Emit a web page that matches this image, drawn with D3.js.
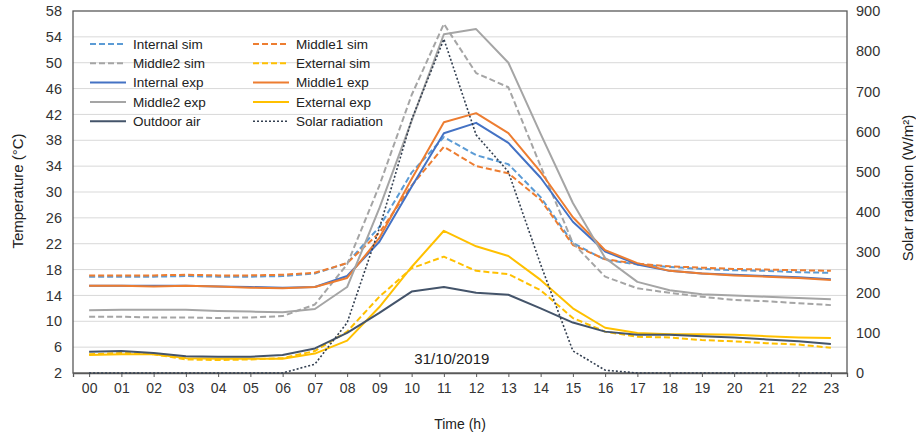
<!DOCTYPE html>
<html>
<head>
<meta charset="utf-8">
<script src="https://d3js.org/d3.v7.min.js"></script>
<style>
body { margin: 0; background: #fff; }
svg { font-family: Arial, "Liberation Sans", sans-serif; }
.narrow { font-family: "Liberation Sans Narrow", "Arial Narrow", Arial, sans-serif; }
</style>
</head>
<body>
<svg id="chart" width="916" height="438"></svg>
<script>
var hours = ["00","01","02","03","04","05","06","07","08","09","10","11","12","13","14","15","16","17","18","19","20","21","22","23"];
var tempTicks = [2,6,10,14,18,22,26,30,34,38,42,46,50,54,58];
var solarTicks = [0,100,200,300,400,500,600,700,800,900];

var internalSim = [16.9,16.9,16.9,17.0,16.9,16.9,17.0,17.4,19.0,24.6,33.0,38.5,35.7,34.3,29.2,22.1,19.5,18.8,18.4,18.1,17.9,17.8,17.6,17.5];
var middle1Sim  = [17.1,17.1,17.1,17.2,17.1,17.1,17.2,17.5,19.0,23.7,31.0,37.0,34.0,32.9,28.8,21.8,19.6,18.9,18.5,18.3,18.1,18.0,17.9,17.8];
var middle2Sim  = [10.7,10.7,10.6,10.6,10.5,10.6,10.8,12.6,18.8,31.0,45.0,56.0,48.4,46.2,34.0,22.1,16.9,15.1,14.4,13.8,13.3,13.1,12.8,12.5];
var externalSim = [4.9,5.1,4.9,4.1,4.0,4.1,4.3,5.4,8.4,13.8,18.2,20.0,17.8,17.3,14.8,10.5,8.4,7.6,7.5,7.1,6.9,6.6,6.4,5.9];
var internalExp = [15.5,15.5,15.5,15.5,15.4,15.3,15.2,15.3,17.0,22.3,30.8,39.1,40.7,37.6,32.2,25.4,20.8,18.8,17.8,17.4,17.2,17.0,16.8,16.5];
var middle1Exp  = [15.5,15.5,15.4,15.5,15.4,15.2,15.1,15.3,16.7,22.9,32.0,40.8,42.2,39.1,33.1,26.1,21.0,19.0,17.8,17.4,17.1,16.9,16.7,16.4];
var middle2Exp  = [11.7,11.8,11.8,11.8,11.6,11.5,11.4,11.9,15.3,27.5,41.0,54.4,55.2,50.0,39.0,28.3,19.8,16.1,14.8,14.2,14.0,13.8,13.6,13.4];
var externalExp = [4.8,4.9,4.9,4.3,4.2,4.2,4.2,5.0,7.0,12.2,18.4,24.0,21.6,20.1,16.4,12.0,9.0,8.2,8.0,8.0,7.9,7.7,7.5,7.4];
var outdoorAir  = [5.3,5.4,5.1,4.6,4.5,4.5,4.8,5.8,8.2,11.3,14.6,15.3,14.4,14.1,12.0,9.8,8.4,7.9,7.9,7.7,7.5,7.2,6.9,6.5];
var solarRad    = [0,0,0,0,0,0,0,22,125,360,630,830,592,500,270,55,7,0,0,0,0,0,0,0];

var seriesNames = ["Internal sim","Middle1 sim","Middle2 sim","External sim","Internal exp","Middle1 exp","Middle2 exp","External exp","Outdoor air","Solar radiation"];
var seriesData = [internalSim,middle1Sim,middle2Sim,externalSim,internalExp,middle1Exp,middle2Exp,externalExp,outdoorAir,solarRad];
var colors = ["#5B9BD5","#ED7D31","#A5A5A5","#FFC000","#4472C4","#ED7D31","#A5A5A5","#FFC000","#44546A","#333F50"];
var dashes = ["6,3","6,3","6,3","6,3",null,null,null,null,null,"2,2"];

var margin = {top: 11, right: 69, bottom: 65, left: 73};
var svg = d3.select("#chart");
var width = 916 - margin.left - margin.right,
    height = 438 - margin.top - margin.bottom;
var g = svg.append("g").attr("transform", "translate(" + margin.left + "," + margin.top + ")");

var xScale = d3.scalePoint().domain(hours).range([0, width]).padding(0.5);
var yScale = d3.scaleLinear().domain([2, 58]).range([height, 0]);
var y2Scale = d3.scaleLinear().domain([0, 900]).range([height, 0]);

// gridlines
g.selectAll(".grid")
  .data(tempTicks.slice(1, -1))
  .enter().append("line")
  .attr("x1", 0).attr("x2", width)
  .attr("y1", function(d) { return yScale(d); })
  .attr("y2", function(d) { return yScale(d); })
  .attr("stroke", "#d9d9d9")
  .attr("stroke-width", 1);

// frame
g.append("rect")
  .attr("x", 0).attr("y", 0)
  .attr("width", width).attr("height", height)
  .attr("fill", "none")
  .attr("stroke", "#595959")
  .attr("stroke-width", 1.3);

// left axis
var yAxis = g.append("g")
  .call(d3.axisLeft(yScale).tickValues(tempTicks).tickSize(0).tickPadding(11));
yAxis.select(".domain").remove();
yAxis.selectAll("text").attr("font-size", "14.5px").attr("fill", "#333").attr("font-family", "Arial, sans-serif");

// right axis
var y2Axis = g.append("g")
  .attr("transform", "translate(" + width + ",0)")
  .call(d3.axisRight(y2Scale).tickValues(solarTicks).tickSize(0).tickPadding(9));
y2Axis.select(".domain").remove();
y2Axis.selectAll("text").attr("font-size", "14.5px").attr("fill", "#333").attr("font-family", "Arial, sans-serif");

// bottom axis
var xAxis = g.append("g")
  .attr("transform", "translate(0," + height + ")")
  .call(d3.axisBottom(xScale).tickSize(4).tickPadding(6));
xAxis.select(".domain").attr("stroke", "#595959").attr("stroke-width", 1.3);
xAxis.selectAll(".tick line").attr("stroke", "#595959");
xAxis.selectAll("text")
  .attr("class", "narrow")
  .attr("font-size", "14px")
  .attr("fill", "#333");

// series lines
var lineT = d3.line()
  .x(function(d, i) { return xScale(hours[i]); })
  .y(function(d) { return yScale(d); });
var lineS = d3.line()
  .x(function(d, i) { return xScale(hours[i]); })
  .y(function(d) { return y2Scale(d); });

seriesData.forEach(function(vals, k) {
  g.append("path")
    .attr("fill", "none")
    .attr("stroke", colors[k])
    .attr("stroke-width", k == 9 ? 1.6 : 2)
    .attr("stroke-dasharray", dashes[k])
    .attr("stroke-linejoin", "round")
    .attr("d", k == 9 ? lineS(vals) : lineT(vals));
});

// legend
var legend = g.append("g");
seriesNames.forEach(function(name, k) {
  var col = k % 2, row = Math.floor(k / 2);
  var lx = col == 0 ? 17 : 180;
  var ly = 33 + row * 19.3;
  legend.append("line")
    .attr("x1", lx).attr("x2", lx + 36)
    .attr("y1", ly).attr("y2", ly)
    .attr("stroke", colors[k])
    .attr("stroke-width", k == 9 ? 1.6 : 2)
    .attr("stroke-dasharray", dashes[k]);
  legend.append("text")
    .attr("x", lx + 43)
    .attr("y", ly)
    .attr("dy", "0.35em")
    .attr("font-size", "13.5px")
    .attr("fill", "#222")
    .text(name);
});

// date label
g.append("text")
  .attr("x", xScale("11") + 8)
  .attr("y", height - 9)
  .attr("text-anchor", "middle")
  .attr("font-size", "15px")
  .attr("fill", "#222")
  .text("31/10/2019");

// axis titles
svg.append("text")
  .attr("class", "narrow")
  .attr("x", margin.left + width / 2)
  .attr("y", 429)
  .attr("text-anchor", "middle")
  .attr("font-size", "14px")
  .attr("fill", "#222")
  .text("Time (h)");

svg.append("text")
  .attr("transform", "translate(23,191) rotate(-90)")
  .attr("text-anchor", "middle")
  .attr("font-size", "15px")
  .attr("fill", "#222")
  .text("Temperature (°C)");

svg.append("text")
  .attr("transform", "translate(913,188) rotate(-90)")
  .attr("text-anchor", "middle")
  .attr("font-size", "15px")
  .attr("fill", "#222")
  .text("Solar radiation (W/m²)");
</script>
</body>
</html>
